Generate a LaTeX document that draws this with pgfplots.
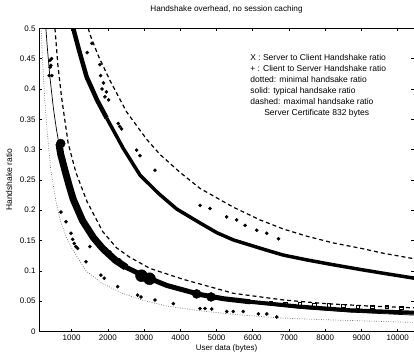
\documentclass[border=0pt]{standalone}
\usepackage{pgfplots}
\pgfplotsset{compat=1.18}
\usepackage{fontspec}
\setmainfont{Liberation Sans}
\begin{document}
\begin{tikzpicture}
\begin{axis}[
  scale only axis, width=375pt, height=303.2pt,
  xmin=100, xmax=10450, ymin=0, ymax=0.5,
  xtick={1000,2000,...,10000},
  ytick={0,0.05,...,0.5},
  scaled x ticks=false, scaled y ticks=false,
  xticklabel style={/pgf/number format/set thousands separator={}},
  yticklabel style={/pgf/number format/fixed,/pgf/number format/precision=2},
  /pgf/number format/assume math mode=true,
  every tick label/.append style={font=\fontsize{8}{9}\selectfont},
  tick align=inside, major tick length=3pt,
  every tick/.style={black, line width=0.6pt},
  axis line style={line width=0.8pt},
  title={Handshake overhead, no session caching},
  title style={at={(axis description cs:0.5,1)}, anchor=base, yshift=11pt, font=\fontsize{8.2}{9}\selectfont},
  xlabel={User data (bytes)},
  ylabel={Handshake ratio},
  xlabel style={at={(axis description cs:0.5,-0.061)}, anchor=base, font=\fontsize{8}{9}\selectfont},
  ylabel style={at={(axis description cs:-0.08,0.5)}, anchor=center, font=\fontsize{8.5}{9}\selectfont},
  clip=true,
]
% upper dashed: maximal server-to-client
\addplot[black, line width=1.2pt, dash pattern=on 4pt off 3pt] coordinates {
(1460,0.5) (1505,0.49) (1735,0.455) (2058,0.414) (2519,0.362) (3071,0.317) (3439,0.292) (4000,0.262) (4544,0.236) (5464,0.205) (6200,0.184) (6845,0.169) (7500,0.157) (8227,0.146) (9000,0.137) (9609,0.129) (10450,0.12)};
% upper solid: typical server-to-client (dense X marks)
\addplot[black, line width=4.5pt] coordinates {
(1045,0.5) (1200,0.465) (1414,0.42) (1700,0.382) (1967,0.352)};
\addplot[black, line width=3.5pt] coordinates {
(1967,0.352) (2425,0.302) (2887,0.258) (3392,0.228) (3900,0.202) (4544,0.179) (5006,0.163) (5464,0.151) (6387,0.134) (6845,0.126) (7500,0.118) (8227,0.110) (9000,0.102) (9609,0.096) (10450,0.088)};
% server-to-client scatter marks
\addplot[only marks, mark=*, mark size=1.6pt, black] coordinates {
(1430,0.46) (1560,0.475) (1780,0.44) (1800,0.422) (1840,0.40) (1880,0.41) (1920,0.387) (1960,0.395) (2020,0.382)
(2287,0.343) (2330,0.338) (2380,0.334) (2795,0.299) (2887,0.29) (3300,0.266)
(4544,0.208) (4820,0.203) (5280,0.189) (5556,0.184) (5787,0.175) (6110,0.167) (6387,0.162) (6708,0.153)};
% lower dotted: minimal
\addplot[black!55, line width=0.7pt, dash pattern=on 0.8pt off 1.6pt] coordinates {
(160,0.5) (200,0.444) (260,0.381) (330,0.327) (428,0.265) (566,0.215) (700,0.18) (862,0.155) (1000,0.138) (1395,0.1) (1856,0.079) (2400,0.063) (3000,0.051) (3624,0.042) (4544,0.034) (5500,0.028) (6840,0.022) (8210,0.019) (10450,0.015)};
% lower dashed: maximal
\addplot[black, line width=1.2pt, dash pattern=on 4pt off 3pt] coordinates {
(540,0.5) (620,0.44) (723,0.386) (906,0.31) (1120,0.262) (1420,0.215) (1856,0.165) (2240,0.138) (2591,0.123) (3163,0.104) (4083,0.086) (5464,0.063) (6845,0.052) (8000,0.046) (9200,0.042) (10450,0.039)};
% lower solid thin line: typical
\addplot[black, line width=0.7pt] coordinates {
(290,0.5) (330,0.468) (400,0.42) (500,0.367) (585,0.332) (700,0.293) (815,0.262) (935,0.237) (1045,0.217) (1300,0.182) (1600,0.153) (1856,0.135) (2200,0.116) (2500,0.104) (3052,0.087) (3624,0.074) (4544,0.06) (5200,0.053) (5925,0.047) (7306,0.038) (8688,0.032) (10450,0.027)};
% client-to-server cluster
\addplot[black, line width=7pt] coordinates {
(650,0.31) (700,0.292) (815,0.266) (935,0.24) (1045,0.218) (1300,0.183) (1600,0.155) (1856,0.137) (2200,0.118) (2500,0.106)};
\addplot[black, line width=5pt] coordinates {
(2500,0.106) (3052,0.09) (3624,0.076) (4544,0.061) (5200,0.054) (5925,0.049)};
\addplot[black, line width=4pt] coordinates {
(5925,0.049) (7306,0.041) (8688,0.035) (10450,0.031)};
\addplot[only marks, mark=*, mark size=6pt, black] coordinates {(2930,0.092) (3150,0.087)};
\addplot[only marks, mark=*, mark size=4.5pt, black] coordinates {(700,0.31) (4450,0.062) (4850,0.057)};
% client-to-server scatter marks
\addplot[only marks, mark=*, mark size=1.6pt, black] coordinates {
(400,0.447) (405,0.436) (382,0.422) (448,0.45) (428,0.439) (455,0.422)
(705,0.197) (843,0.181) (981,0.162) (1030,0.152) (1073,0.145) (1120,0.14) (1165,0.137) (1395,0.115) (1809,0.093) (1901,0.088) (2271,0.074) (2823,0.06) (2915,0.057)
(3301,0.052) (3807,0.046) (4544,0.038) (4682,0.038) (4867,0.037) (5280,0.033) (5464,0.033) (5740,0.033) (6155,0.029) (6387,0.029) (6663,0.024)
(1505,0.14) (1600,0.16) (1750,0.148) (2058,0.131) (2150,0.123) (2330,0.118)};
\addplot[only marks, mark=square, mark size=1.6pt, black, line width=0.7pt] coordinates {
(6500,0.047) (6900,0.046) (7300,0.045) (7700,0.044) (8100,0.043) (8500,0.042) (8900,0.041) (9300,0.04) (9700,0.04) (10100,0.039)};
% annotation text
\node[anchor=north west, align=left, inner sep=0pt, font=\fontsize{8.5}{11}\selectfont] at (rel axis cs:0.563,0.915) {X : Server to Client Handshake ratio\\+ : Client to Server Handshake ratio\\dotted: minimal handsake ratio\\solid: typical handsake ratio\\dashed: maximal handsake ratio\\\hspace*{14pt}Server Certificate 832 bytes};
\end{axis}
\pgfresetboundingbox
\path[use as bounding box] (-39pt,-22.5pt) rectangle (375pt,331.5pt);
\end{tikzpicture}
\end{document}
